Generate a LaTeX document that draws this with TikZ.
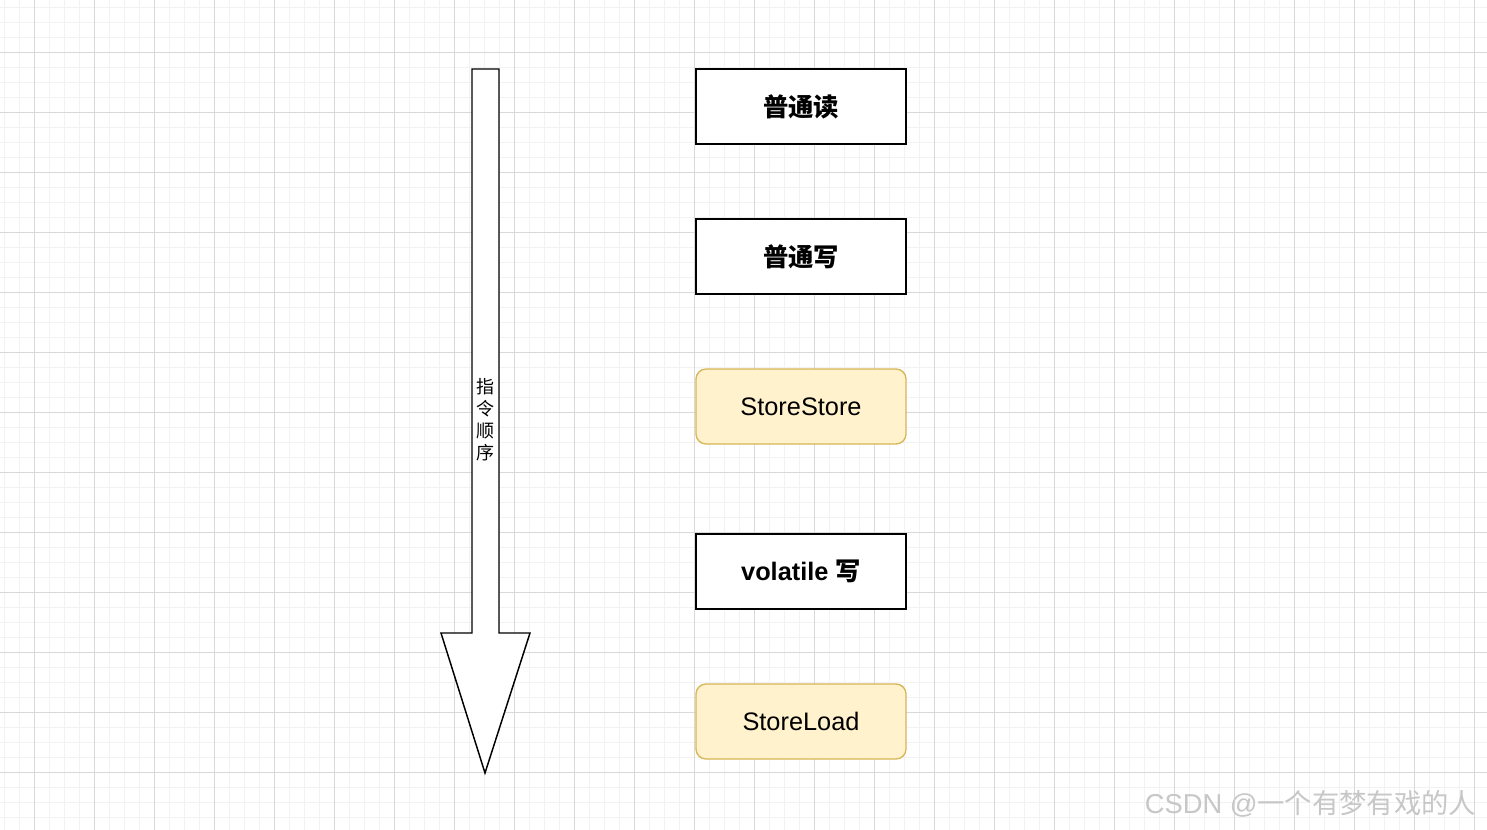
\documentclass[tikz,border=0pt]{standalone}
\usepackage{fontspec}
\setmainfont{Liberation Sans}
\newfontfamily\cjk{Noto Sans CJK SC}
\definecolor{noteFill}{HTML}{FFF2CC}
\definecolor{noteLine}{HTML}{D6B656}
\definecolor{gridMinor}{HTML}{F2F2F2}
\definecolor{gridMajor}{HTML}{D9D9D9}
\tikzset{
  opbox/.style={draw, line width=1pt, fill=white, minimum width=157.5pt,
    minimum height=56.25pt, font=\fontsize{19}{22}\selectfont\bfseries},
  barrier/.style={draw=noteLine, line width=1pt, fill=noteFill, rounded corners=7.5pt,
    minimum width=157.5pt, minimum height=56.25pt, font=\fontsize{19}{22}\selectfont},
}
\begin{document}
\begin{tikzpicture}[x=0.75pt,y=-0.75pt]
  \useasboundingbox (0,0) rectangle (1487,830);
  \fill[white] (0,0) rectangle (1487,830);
  % grid
  \foreach \x in {4,19,...,1487} \draw[gridMinor, line width=0.6pt] (\x,0) -- (\x,830);
  \foreach \y in {7,22,...,830} \draw[gridMinor, line width=0.6pt] (0,\y) -- (1487,\y);
  \foreach \x in {34,94,...,1487} \draw[gridMajor, line width=0.7pt] (\x,0) -- (\x,830);
  \foreach \y in {52,112,...,830} \draw[gridMajor, line width=0.7pt] (0,\y) -- (1487,\y);

  % order arrow
  \draw[line width=1.1pt, fill=white, line join=miter]
    (472,69) -- (499,69) -- (499,633) -- (530,633) -- (485,773)
    -- (441,633) -- (472,633) -- cycle;
  \node (order) at (485,420) [align=center, inner sep=0pt,
    font=\fontsize{13.5}{16.5}\selectfont\cjk] {指\\令\\顺\\序};

  \node[opbox] (rd) at (801,106.5) {\cjk 普通读};
  \node[opbox] (wr) at (801,256.5) {\cjk 普通写};
  \node[barrier] (ss) at (801,406.5) {StoreStore};
  \node[opbox] (vw) at (801,571.5) {volatile {\cjk 写}};
  \node[barrier] (sl) at (801,721.5) {StoreLoad};

  \node (mark) [anchor=east, text=black!22, font=\fontsize{20.5}{24}\selectfont]
    at (1481,804) {CSDN @{\cjk 一个有梦有戏的人}};
\end{tikzpicture}
\end{document}
